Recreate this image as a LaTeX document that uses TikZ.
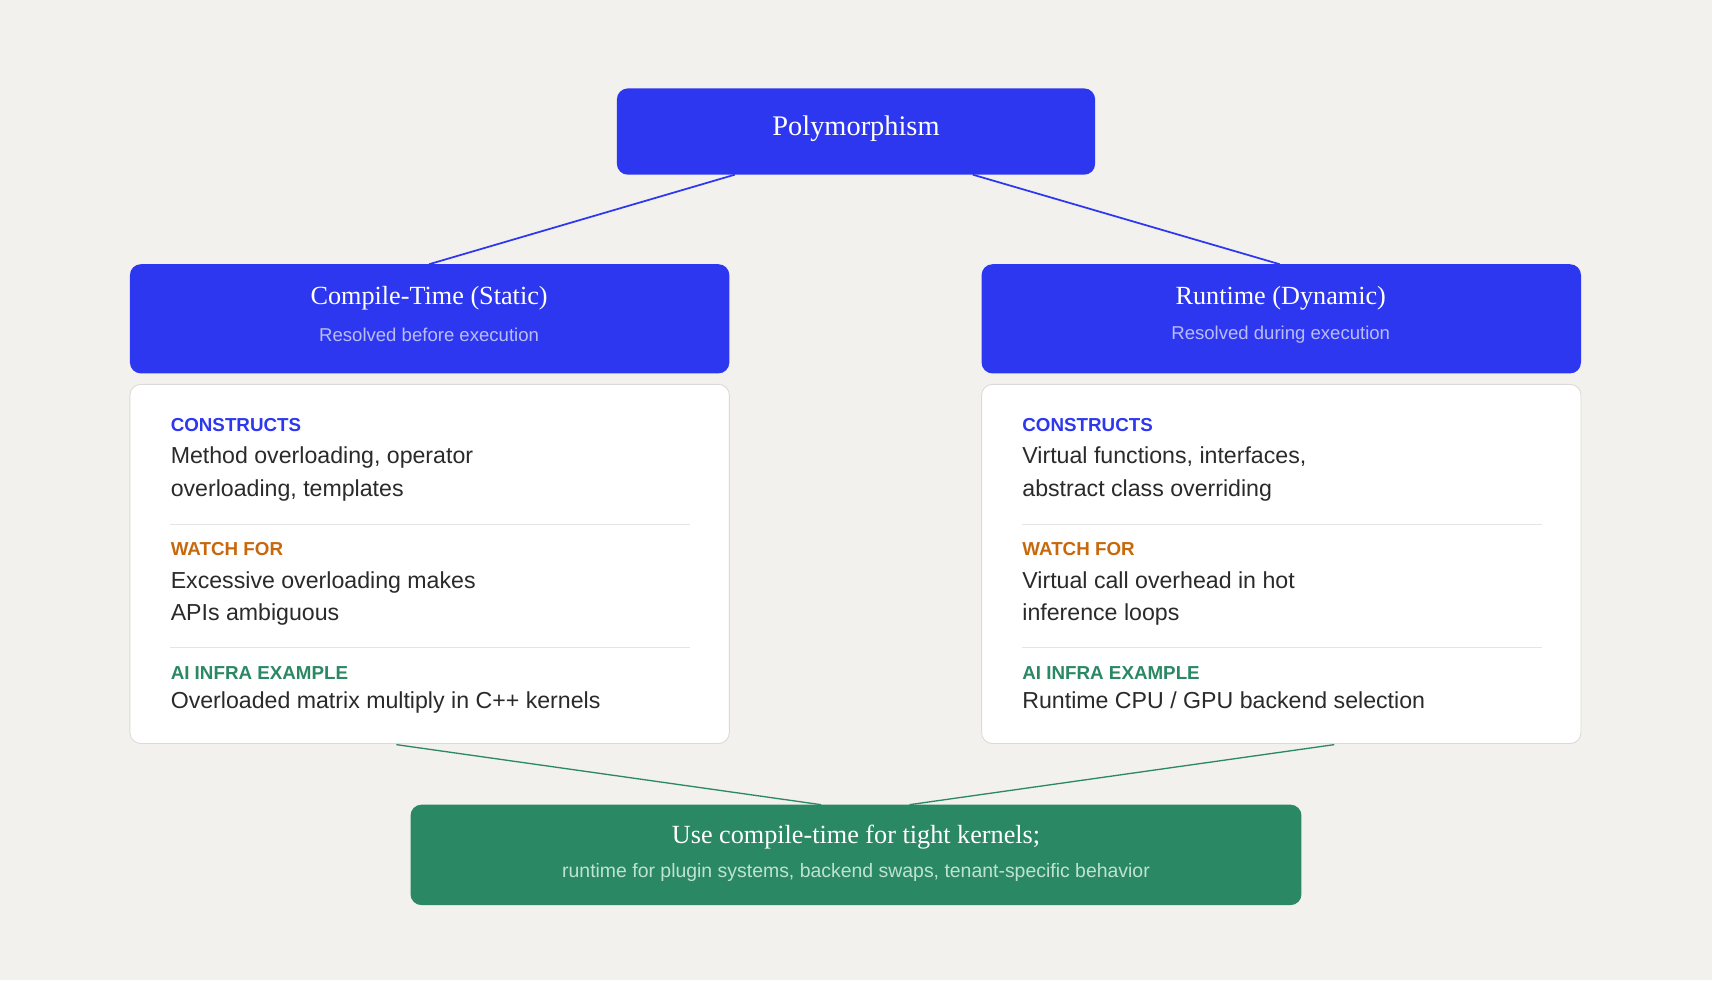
\documentclass[tikz,border=0pt]{standalone}
\usepackage{fontspec}
\setmainfont{Liberation Serif}
\setsansfont{Liberation Sans}
\usetikzlibrary{positioning}
\definecolor{bgc}{HTML}{F2F1ED}
\definecolor{blu}{HTML}{2E37F0}
\definecolor{grn}{HTML}{2A8864}
\definecolor{org}{HTML}{C8680C}
\definecolor{sub}{HTML}{B9BCF8}
\definecolor{subg}{HTML}{BFE3D3}
\definecolor{txt}{HTML}{2A2A2A}
\definecolor{edge}{HTML}{DCDAD6}
\tikzset{
	box/.style={rounded corners=5pt,inner sep=0pt},
	head/.style={font=\fontsize{12}{14}\selectfont,text=white},
	sub/.style={font=\sffamily\fontsize{8.5}{10}\selectfont,text=sub},
	tag/.style={anchor=west,inner sep=0pt,font=\sffamily\bfseries\fontsize{8.6}{10}\selectfont},
	body/.style={anchor=north west,inner sep=0pt,align=left,text=txt,font=\sffamily\fontsize{10.6}{15}\selectfont}
}
\begin{document}
\begin{tikzpicture}[x=0.5pt,y=-0.5pt]
	\fill[bgc] (0,0) rectangle (1568,898);
	\useasboundingbox (0,0) rectangle (1568,898);
	% boxes
	\fill[blu,box] (565,81) rectangle (1003,160);
	\node[head,font=\fontsize{13}{15}\selectfont] (poly) at (784,118) {Polymorphism};
	\fill[blu,box] (119,242) rectangle (668,342);
	\fill[blu,box] (899,242) rectangle (1448,342);
	\node[head] (ct) at (393,273) {Compile-Time (Static)};
	\node[sub] (cts) at (393,307) {Resolved before execution};
	\node[head] (rt) at (1173,273) {Runtime (Dynamic)};
	\node[sub] (rts) at (1173,307) {Resolved during execution};
	\filldraw[fill=white,draw=edge,box] (119,352) rectangle (668,681);
	\filldraw[fill=white,draw=edge,box] (899,352) rectangle (1448,681);
	\fill[grn,box] (376,737) rectangle (1192,829);
	\node[head] (use) at (784,767) {Use compile-time for tight kernels;};
	\node[sub,text=subg,font=\sffamily\fontsize{8.9}{10}\selectfont] (uses) at (784,799) {runtime for plugin systems, backend swaps, tenant-specific behavior};
	% connectors
	\coordinate (pl) at (673,160);
	\coordinate (pr) at (891,160);
	\coordinate (cl) at (393,242);
	\coordinate (cr) at (1172,242);
	\coordinate (ll) at (363,682);
	\coordinate (rr) at (1222,682);
	\coordinate (gl) at (752,737);
	\coordinate (gr) at (833,737);
	\draw[blu,line width=0.8pt] (pl) -- (cl);
	\draw[blu,line width=0.8pt] (pr) -- (cr);
	\draw[grn,line width=0.6pt] (ll) -- (gl);
	\draw[grn,line width=0.6pt] (rr) -- (gr);
	% left card
	\node[tag,text=blu] (lc) at (156,389) {CONSTRUCTS};
	\node[body] (lct) at (156,409) {Method overloading, operator\\overloading, templates};
	\draw[edge!70] (156,480) -- (632,480);
	\node[tag,text=org] (lw) at (156,503) {WATCH FOR};
	\node[body] (lwt) at (156,523) {Excessive overloading makes\\APIs ambiguous};
	\draw[edge!70] (156,593) -- (632,593);
	\node[tag,text=grn] (la) at (156,616) {AI INFRA EXAMPLE};
	\node[body] (lat) at (156,633) {Overloaded matrix multiply in C++ kernels};
	% right card
	\node[tag,text=blu] (rc) at (936,389) {CONSTRUCTS};
	\node[body] (rct) at (936,409) {Virtual functions, interfaces,\\abstract class overriding};
	\draw[edge!70] (936,480) -- (1412,480);
	\node[tag,text=org] (rw) at (936,503) {WATCH FOR};
	\node[body] (rwt) at (936,523) {Virtual call overhead in hot\\inference loops};
	\draw[edge!70] (936,593) -- (1412,593);
	\node[tag,text=grn] (ra) at (936,616) {AI INFRA EXAMPLE};
	\node[body] (rat) at (936,633) {Runtime CPU / GPU backend selection};
\end{tikzpicture}
\end{document}
